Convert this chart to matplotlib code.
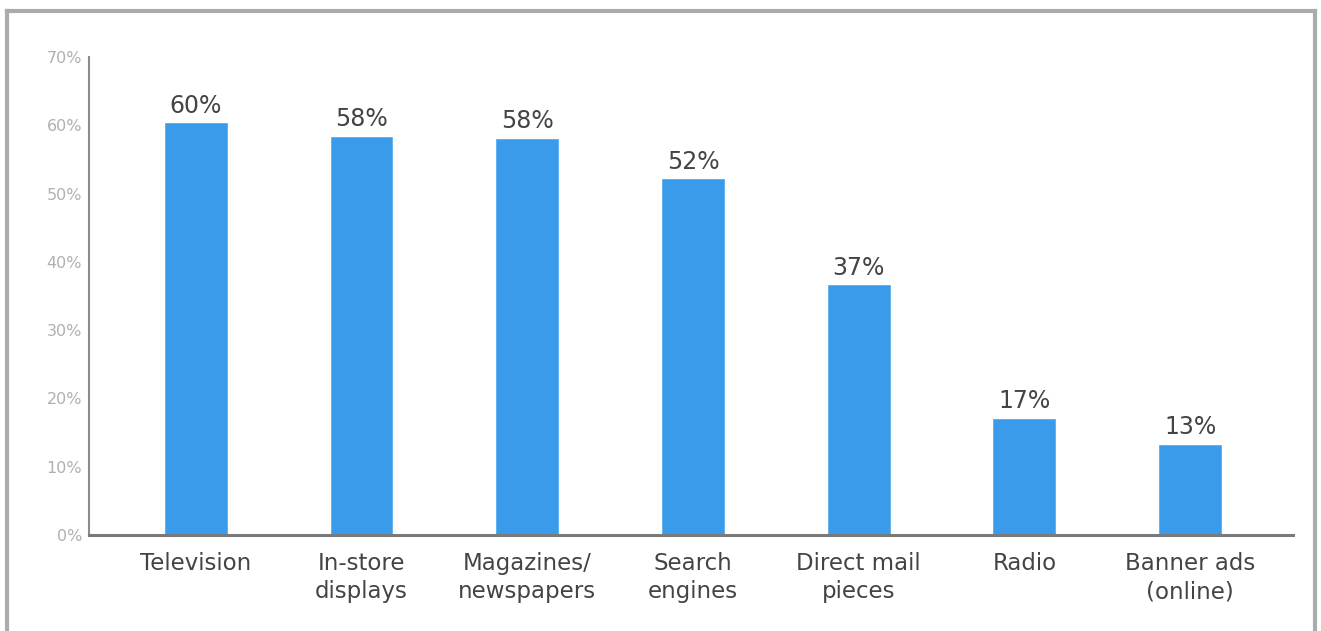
import matplotlib
matplotlib.use("Agg")
import matplotlib.pyplot as plt
from matplotlib.lines import Line2D

categories = ["Television", "In-store\ndisplays", "Magazines/\nnewspapers",
              "Search\nengines", "Direct mail\npieces", "Radio", "Banner ads\n(online)"]
values = [60.3, 58.3, 58.0, 52.1, 36.6, 17.0, 13.2]
value_labels = ["60%", "58%", "58%", "52%", "37%", "17%", "13%"]
yticks = [0, 10, 20, 30, 40, 50, 60, 70]
ytick_labels = [f"{t}%" for t in yticks]

W, H = 1321, 631
fig = plt.figure(figsize=(W / 100, H / 100), dpi=100)
fig.patch.set_facecolor("white")

# outer gray frame (left, top, right edges)
frame_col = "#ababab"
for xs, ys in [([6.5 / W, 6.5 / W], [0, 1 - 10.5 / H]),
               ([6.5 / W, 1 - 6.5 / W], [1 - 10.5 / H, 1 - 10.5 / H]),
               ([1 - 6.5 / W, 1 - 6.5 / W], [0, 1 - 10.5 / H])]:
    fig.add_artist(Line2D(xs, ys, transform=fig.transFigure, color=frame_col, lw=3))

ax = fig.add_axes([89 / W, 96 / H, (1293 - 89) / W, (574 - 96) / H])
x = list(range(len(categories)))
spacing = 166.0
ax.bar(x, values, width=62 / spacing, color="#399bea", edgecolor="#5aaef0", linewidth=0.6, zorder=2)

ax.set_xlim(-107 / spacing, 6 + 103 / spacing)
ax.set_ylim(0, 70)
ax.set_yticks(yticks)
ax.set_yticklabels(ytick_labels, color="#b0b0b0", fontsize=11.5)
ax.set_xticks(x)
ax.set_xticklabels(categories, color="#444444", fontsize=16.5, linespacing=1.3)
ax.tick_params(axis="both", length=0)
ax.tick_params(axis="y", pad=5)
ax.tick_params(axis="x", pad=12)

for s in ["top", "right"]:
    ax.spines[s].set_visible(False)
ax.spines["left"].set_color("#8c8c8c")
ax.spines["left"].set_linewidth(1.5)
ax.spines["bottom"].set_color("#7a7a7a")
ax.spines["bottom"].set_linewidth(2.2)

for xi, v, lab in zip(x, values, value_labels):
    ax.annotate(lab, (xi, v), xytext=(0, 4), textcoords="offset points",
                ha="center", va="bottom", fontsize=17, color="#444444")

fig.savefig("out.png", dpi=100, facecolor="white")
